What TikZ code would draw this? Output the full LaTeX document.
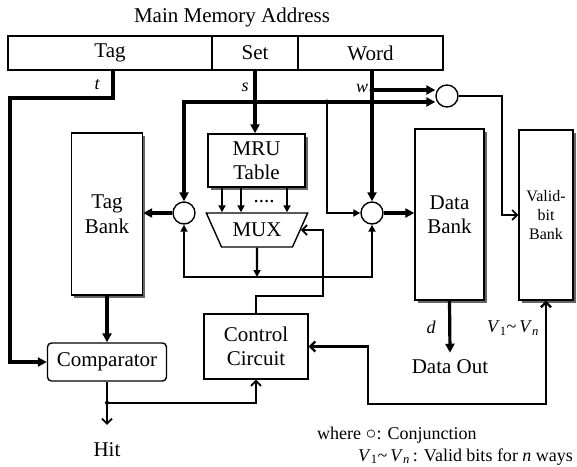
\documentclass[tikz,border=0pt]{standalone}
\usepackage{fontspec}
\setmainfont{Liberation Serif}
\usetikzlibrary{positioning,arrows.meta,shapes.geometric,shadows,calc}
\newcommand{\Vrange}{\textit{V}\textsubscript{1}\textasciitilde\,\textit{V}\textsubscript{\textit{n}}}
\tikzset{
  block/.style={draw, line width=1.4pt, fill=white, align=center, inner sep=2pt, font=\fontsize{21}{24.5}\selectfont},
  bank/.style={block, drop shadow={shadow xshift=2.5pt, shadow yshift=-2.5pt, fill=black!60, opacity=1}},
  field/.style={block, minimum height=34pt, outer sep=0pt},
  gate/.style={circle, draw, line width=1.4pt, fill=white, minimum size=22pt, inner sep=0pt},
  txt/.style={font=\fontsize{21}{24}\selectfont, inner sep=2pt},
  lbl/.style={font=\fontsize{18}{20}\selectfont\itshape, inner sep=1pt},
  bus/.style={line width=3.2pt, -{Triangle[length=9pt,width=9pt]}},
  wire/.style={line width=2.2pt, -{Triangle[length=7pt,width=7pt]}},
  sig/.style={line width=1.7pt, -{Straight Barb[length=5pt,width=10pt]}},
}
\begin{document}
\begin{tikzpicture}[x=1pt, y=-1pt]
  \useasboundingbox (0,0) rectangle (577,466);
  % address fields
  \node[txt] (title) at (232,17) {Main Memory Address};
  \node[field, minimum width=204pt] (tagf) at (110,53) {Tag};
  \node[field, minimum width=86pt, right=0pt of tagf] (setf) {Set};
  \node[field, minimum width=145pt, right=0pt of setf] (wordf) {Word};
  % storage blocks
  \node[bank, minimum width=71pt, minimum height=162pt] (tbank) at (107,214) {Tag\\Bank};
  \node[bank, minimum width=97pt, minimum height=53pt] (mru) at (256.5,160.5) {MRU\\Table};
  \node[bank, minimum width=69pt, minimum height=171pt] (dbank) at (449.5,214.5) {Data\\Bank};
  \node[bank, minimum width=54pt, minimum height=170pt, font=\fontsize{16}{19}\selectfont] (vbank) at (546,215) {Valid-\\bit\\Bank};
  \node[block, minimum width=104pt, minimum height=65pt] (ctrl) at (256,346.5) {Control\\Circuit};
  \node[block, rounded corners=4pt, minimum width=119pt, minimum height=38pt] (comp) at (107,362) {Comparator};
  \node[block, trapezium, trapezium angle=53, shape border rotate=180, trapezium stretches=true,
        minimum width=102pt, minimum height=34pt, inner sep=0pt] (mux) at (257,230) {MUX};
  % conjunctions
  \node[gate] (lc) at (184,213) {};
  \node[gate] (rc) at (372,213) {};
  \node[gate] (vc) at (447,96) {};
  % outputs
  \node[txt] (hit) at (107,450) {Hit};
  \node[txt] (dout) at (450,367) {Data Out};
  \coordinate (tturn) at (10,98);
  \coordinate (sj) at (255,102);
  \coordinate (sk) at (327,102);
  \coordinate (wj) at (372,90);
  \coordinate (fb) at (257,277);
  \coordinate (hj) at ([yshift=-21pt]comp.south);

  \draw[bus] ([xshift=3pt]tagf.south) |- (tturn) |- (comp.west);
  \draw[bus] (setf.south) -- (setf.south |- mru.north);
  \draw[bus] (sj) -| (lc.north);
  \draw[bus] (sj) -- (sj -| vc.west);
  \draw[wire] (sk) |- (rc.west);
  \draw[bus] (rc.north |- wordf.south) -- (rc.north);
  \draw[bus] (wj) -- (wj -| vc.west);
  \draw[sig] (vc.east) -| ([xshift=-16pt]vbank.west) -- (vbank.west);
  \draw[bus] (lc.west) -- (lc.west -| tbank.east);
  \draw[bus] (rc.east) -- (rc.east -| dbank.west);
  \foreach \dx in {-34.5,-15.5,30.5}
    \draw[wire] ([xshift=\dx pt]mru.south) -- ([xshift=\dx pt]mru.south |- mux.north);
  \node[txt, inner sep=0pt, anchor=base] (mdots) at (264,202) {....};
  \draw[wire] (mux.south) -- (fb);
  \draw[wire] (fb) -| (lc.south);
  \draw[wire] (fb) -| (rc.south);
  \draw[sig] (ctrl.north) -- ++(0,-17) -| ([xshift=22pt]mux.east) -- (mux.east);
  \draw[bus] (tbank.south) -- (comp.north);
  \draw[sig] (comp.south) -- ([yshift=16pt]hit.north);
  \draw[sig] (hj) -| (ctrl.south);
  \draw[bus] (dbank.south) -- ([yshift=5pt]dout.north);
  \draw[wire, {Straight Barb[length=5pt,width=10pt]}-{Straight Barb[length=5pt,width=10pt]}]
    (vbank.south) |- ++(-178,103) |- (ctrl.east);
  \fill (sk) circle (2.5pt) (wj) circle (2.5pt) (hj) circle (2pt);
  % labels
  \node[lbl] (tlbl) at (97,85) {t};
  \node[lbl] (slbl) at (245,87) {s};
  \node[lbl] (wlbl) at (362,88) {w};
  \node[lbl] (dlbl) at (431,327) {d};
  \node[font=\fontsize{18}{20}\selectfont] (vlbl) at (513,328) {\Vrange};
  % legend
  \node[anchor=west, inner sep=0pt, font=\fontsize{18}{20}\selectfont] (leg1) at (317,435) {where ○: Conjunction};
  \node[anchor=west, inner sep=0pt, font=\fontsize{18}{20}\selectfont] (leg2) at (358,457) {\Vrange\,: Valid bits for \textit{n} ways};
\end{tikzpicture}
\end{document}
